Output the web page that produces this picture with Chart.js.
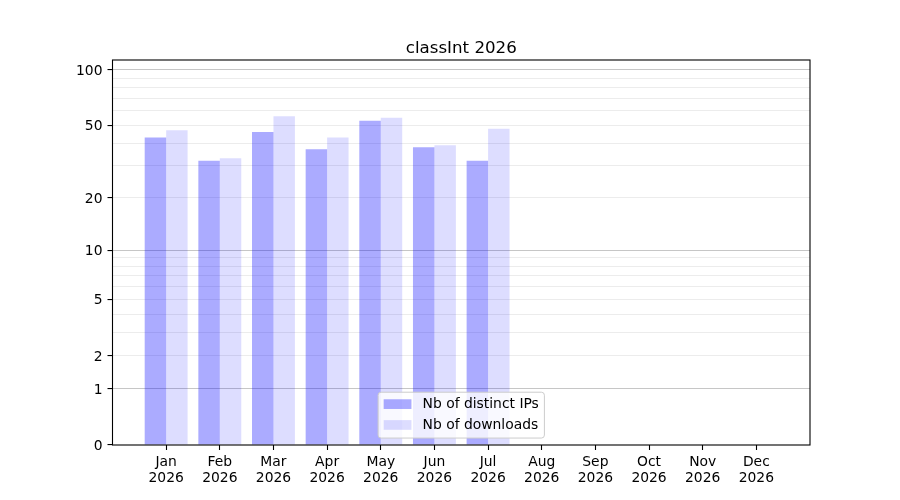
<!DOCTYPE html>
<html>
<head>
<meta charset="utf-8">
<script src="https://cdn.jsdelivr.net/npm/chart.js@4.4.1/dist/chart.umd.min.js"></script>
<style>
html,body{margin:0;padding:0;background:#fff;}
canvas{display:block;}
</style>
</head>
<body>
<canvas id="c" width="900" height="500"></canvas>
<script>
// ---- data ----
const titleText = 'classInt 2026';
const months = ['Jan','Feb','Mar','Apr','May','Jun','Jul','Aug','Sep','Oct','Nov','Dec'];
const yearLabel = '2026';
const distinctIPs = [43, 32, 46, 37, 53, 38, 32];
const downloads = [47, 33, 56, 43, 55, 39, 48];
const seriesNames = ['Nb of distinct IPs', 'Nb of downloads'];
const yTickValues = [0,1,2,3,4,5,6,7,8,9,10,20,30,40,50,60,70,80,90,100];
const yLabeled = [0,1,2,5,10,20,50,100];
const yMajorGrid = [1,10,100];

// ---- custom log(1+x) scale ----
class Log1pScale extends Chart.Scale {
  determineDataLimits() {
    this.min = this.options.min != null ? this.options.min : 0;
    this.max = this.options.max != null ? this.options.max : 100;
  }
  buildTicks() {
    return yTickValues.filter(v => v >= this.min && v <= this.max).map(v => ({value: v}));
  }
  configure() {
    super.configure();
    this._startValue = Math.log10(1 + this.min);
    this._valueRange = Math.log10(1 + this.max) - this._startValue;
  }
  getPixelForValue(value) {
    if (value === undefined || value === null || isNaN(value)) return NaN;
    return this.getPixelForDecimal((Math.log10(1 + value) - this._startValue) / this._valueRange);
  }
  getValueForPixel(pixel) {
    const d = this.getDecimalForPixel(pixel);
    return Math.pow(10, this._startValue + d * this._valueRange) - 1;
  }
  getLabelForValue(v) { return String(v); }
}
Log1pScale.id = 'log1p';
Log1pScale.defaults = {};
Chart.register(Log1pScale);

const FS = 13.89;
const FONT = 'DejaVu Sans';
Chart.defaults.font.family = FONT;
Chart.defaults.color = '#000';

const titlePlugin = {
  id: 'mplTitle',
  afterDraw(chart) {
    const ctx = chart.ctx, a = chart.chartArea;
    ctx.save();
    ctx.font = '16.67px "' + FONT + '"';
    ctx.fillStyle = '#000';
    ctx.textAlign = 'center';
    ctx.textBaseline = 'alphabetic';
    ctx.fillText(titleText, (a.left + a.right) / 2, a.top - 7.5);
    ctx.restore();
  }
};

const framePlugin = {
  id: 'frame',
  afterDatasetsDraw(chart) {
    const ctx = chart.ctx, a = chart.chartArea;
    ctx.save();
    ctx.strokeStyle = '#000';
    ctx.lineWidth = 1.1;
    ctx.strokeRect(a.left, a.top, a.right - a.left, a.bottom - a.top);
    // legend
    ctx.font = FS + 'px "' + FONT + '"';
    const pad = 0.4 * FS, hl = 2.0 * FS, htp = 0.8 * FS, sp = 0.5 * FS, rowH = FS, hh = 0.7 * FS;
    const ds = chart.data.datasets;
    let maxW = 0;
    ds.forEach(d => { maxW = Math.max(maxW, ctx.measureText(d.label).width); });
    const w = pad + hl + htp + maxW + pad;
    const h = 2 * pad + ds.length * rowH + (ds.length - 1) * sp;
    const x = (a.left + a.right) / 2 - w / 2;
    const y = a.bottom - 0.5 * FS - h;
    ctx.beginPath();
    if (ctx.roundRect) ctx.roundRect(x, y, w, h, 3); else ctx.rect(x, y, w, h);
    ctx.fillStyle = 'rgba(255,255,255,0.8)';
    ctx.fill();
    ctx.strokeStyle = '#cccccc';
    ctx.lineWidth = 1;
    ctx.stroke();
    ds.forEach((d, i) => {
      const rt = y + pad + i * (rowH + sp);
      ctx.fillStyle = d.backgroundColor;
      ctx.fillRect(x + pad, rt + (rowH - hh) / 2 - 0.6, hl, hh);
      ctx.fillStyle = '#000';
      ctx.textAlign = 'left';
      ctx.textBaseline = 'alphabetic';
      ctx.fillText(d.label, x + pad + hl + htp, rt + 10.6);
    });
    ctx.restore();
  }
};

new Chart(document.getElementById('c'), {
  type: 'bar',
  data: {
    datasets: [
      {
        label: seriesNames[0],
        data: distinctIPs.map((v, i) => ({x: i, y: v})),
        backgroundColor: 'rgba(0,0,255,0.33)',
        borderWidth: 0,
        categoryPercentage: 0.8,
        barPercentage: 1.0
      },
      {
        label: seriesNames[1],
        data: downloads.map((v, i) => ({x: i, y: v})),
        backgroundColor: 'rgba(0,0,255,0.135)',
        borderWidth: 0,
        categoryPercentage: 0.8,
        barPercentage: 1.0
      }
    ]
  },
  options: {
    responsive: false,
    animation: false,
    devicePixelRatio: 1,
    layout: {padding: {top: 60, right: 90, left: 0, bottom: 0}},
    plugins: {legend: {display: false}, title: {display: false}, tooltip: {enabled: false}},
    scales: {
      x: {
        type: 'linear',
        min: -1,
        max: 12,
        offset: false,
        grid: {offset: false, drawOnChartArea: false, drawTicks: true, tickLength: 5, tickColor: '#000', tickWidth: 1.1},
        border: {display: false},
        afterBuildTicks: s => { s.ticks = months.map((_, i) => ({value: i})); },
        afterFit: s => { s.height = 55; },
        ticks: {
          autoSkip: false,
          maxRotation: 0,
          minRotation: 0,
          padding: 5,
          color: '#000',
          font: {size: FS, family: FONT, lineHeight: 1.13},
          callback: v => [months[v], yearLabel]
        }
      },
      y: {
        type: 'log1p',
        min: 0,
        max: 113,
        grid: {
          drawOnChartArea: true,
          drawTicks: true,
          tickLength: 5,
          lineWidth: 1.1,
          tickWidth: 1.1,
          color: c => {
            const v = c.tick ? c.tick.value : null;
            if (v === 0) return 'rgba(0,0,0,0)';
            return yMajorGrid.includes(v) ? '#c6c6c6' : '#ececec';
          },
          tickColor: c => (c.tick && yLabeled.includes(c.tick.value)) ? '#000' : 'rgba(0,0,0,0)'
        },
        border: {display: false},
        afterFit: s => { s.width = 112.5; },
        ticks: {
          autoSkip: false,
          padding: 5,
          labelOffset: 1.5,
          color: '#000',
          font: {size: FS, family: FONT},
          callback: v => yLabeled.includes(v) ? String(v) : ''
        }
      }
    }
  },
  plugins: [titlePlugin, framePlugin]
});
</script>
</body>
</html>
